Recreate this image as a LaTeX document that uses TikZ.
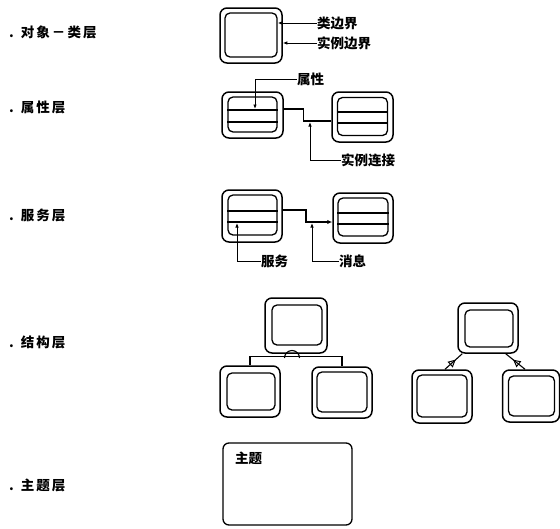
\documentclass[tikz,border=0pt]{standalone}
\usepackage{fontspec}
\setmainfont{Noto Sans CJK SC}
\usetikzlibrary{arrows.meta, decorations.markings}
\begin{document}
\begin{tikzpicture}[x=1pt, y=-1pt,
    outerbox/.style={draw, line width=1.5pt, rounded corners=7pt, inner sep=0pt},
    innerbox/.style={draw, line width=1.3pt, rounded corners=5pt, inner sep=0pt},
    lbl/.style={font=\fontsize{13.5}{13.5}\selectfont\bfseries, inner sep=0pt, anchor=west},
    layer/.style={lbl, font=\fontsize{13.5}{13.5}\selectfont\bfseries\addfontfeature{LetterSpace=15}},
    ptr/.style={line width=1pt, -{Latex[length=4.5pt, width=3.5pt]}},
    link/.style={line width=1.1pt},
    msglink/.style={line width=2.2pt, -{Latex[length=5pt, width=4.5pt]}},
    wholepart/.style={line width=1.1pt, postaction={decorate},
      decoration={markings, mark=at position 0.62 with {\arrow{Triangle[open, length=7.5pt, width=7.5pt, line width=1pt]}}}}]
  \useasboundingbox (0,0) rectangle (560,528);
  % layer names
  \node[layer] (l1) at (9,32) {.\hspace{7pt}对象－类层};
  \node[layer] (l2) at (9,107) {.\hspace{7pt}属性层};
  \node[layer] (l3) at (9,215) {.\hspace{7pt}服务层};
  \node[layer] (l4) at (9,342) {.\hspace{7pt}结构层};
  \node[layer] (l5) at (9,485) {.\hspace{7pt}主题层};
  % object-class layer
  \node[outerbox, minimum width=62, minimum height=55] (c1o) at (251,35.5) {};
  \node[innerbox, minimum width=52, minimum height=44] (c1i) at (251,35) {};
  \node[lbl] (cls) at (317,23) {类边界};
  \node[lbl] (ins) at (317,43) {实例边界};
  \draw[ptr] (cls.west) -- (cls.west -| c1i.east);
  \draw[ptr] (ins.west) -- (ins.west -| c1o.east);
  % attribute layer
  \node[outerbox, minimum width=61, minimum height=46] (a1o) at (252.5,115) {};
  \node[innerbox, minimum width=49, minimum height=35] (a1i) at (252.5,114.5) {};
  \draw[link] (a1i.west |- 0,110) -- (a1i.east |- 0,110);
  \draw[link] (a1i.west |- 0,122) -- (a1i.east |- 0,122);
  \node[outerbox, minimum width=61, minimum height=50] (a2o) at (362.5,117) {};
  \node[innerbox, minimum width=50, minimum height=38] (a2i) at (362.5,116.5) {};
  \draw[link] (a2i.west |- 0,112) -- (a2i.east |- 0,112);
  \draw[link] (a2i.west |- 0,123) -- (a2i.east |- 0,123);
  \draw[link] (a1o.east |- 0,109) -- ++(20,0) |- (a2o.west |- 0,121);
  \node[lbl] (attr) at (297,79) {属性};
  \node[lbl] (conn) at (341,160) {实例连接};
  \coordinate (attrtip) at (255,109);
  \coordinate (conntip) at (310,122);
  \draw[ptr] (attr.west) -| (attrtip);
  \draw[ptr] (conn.west) -| (conntip);
  % service layer
  \node[outerbox, minimum width=60, minimum height=52] (s1o) at (252,216) {};
  \node[innerbox, minimum width=49, minimum height=40] (s1i) at (252.5,215) {};
  \draw[link] (s1i.west |- 0,211) -- (s1i.east |- 0,211);
  \draw[link] (s1i.west |- 0,222) -- (s1i.east |- 0,222);
  \node[outerbox, minimum width=60, minimum height=50] (s2o) at (363,218) {};
  \node[innerbox, minimum width=50, minimum height=38] (s2i) at (363,217) {};
  \draw[link] (s2i.west |- 0,213) -- (s2i.east |- 0,213);
  \draw[link] (s2i.west |- 0,224) -- (s2i.east |- 0,224);
  \draw[msglink] (s1o.east |- 0,210) -- ++(23,0) |- (s2o.west |- 0,222);
  \node[lbl] (svc) at (261,261) {服务};
  \node[lbl] (msg) at (339,261) {消息};
  \coordinate (svctip) at (237,223);
  \coordinate (msgtip) at (312,223);
  \draw[ptr] (svc.west) -| (svctip);
  \draw[ptr] (msg.west) -| (msgtip);
  % structure layer: gen-spec
  \node[outerbox, minimum width=62, minimum height=55] (g1o) at (296,325.5) {};
  \node[innerbox, minimum width=50, minimum height=40] (g1i) at (297,325) {};
  \node[outerbox, minimum width=60, minimum height=51] (g2o) at (250,391.5) {};
  \node[innerbox, minimum width=48, minimum height=37] (g2i) at (251,391.5) {};
  \node[outerbox, minimum width=60, minimum height=51] (g3o) at (342,392.5) {};
  \node[innerbox, minimum width=50, minimum height=40] (g3i) at (342,392) {};
  \draw[link] (g2o.north) -- ++(0,-8.5) -| (g3o.north);
  \draw[link] (284.5,358) arc (180:360:7.5);
  % structure layer: whole-part
  \node[outerbox, minimum width=60, minimum height=50] (h1o) at (488,328) {};
  \node[innerbox, minimum width=48, minimum height=37] (h1i) at (489,328.5) {};
  \node[outerbox, minimum width=60, minimum height=53] (h2o) at (442,396.5) {};
  \node[innerbox, minimum width=50, minimum height=42] (h2i) at (442,396) {};
  \node[outerbox, minimum width=57, minimum height=52] (h3o) at (531,396) {};
  \node[innerbox, minimum width=46, minimum height=40] (h3i) at (531.5,396) {};
  \draw[wholepart] ([xshift=3pt]h2o.north) -- ([xshift=5pt]h1o.south west);
  \draw[wholepart] ([xshift=-6pt]h3o.north) -- ([xshift=-13pt]h1o.south east);
  % subject layer
  \node[draw, line width=1.3pt, rounded corners=6pt, minimum width=129, minimum height=82] (subj) at (287.5,484) {};
  \node[lbl] (subjlbl) at (235,458) {主题};
\end{tikzpicture}
\end{document}
